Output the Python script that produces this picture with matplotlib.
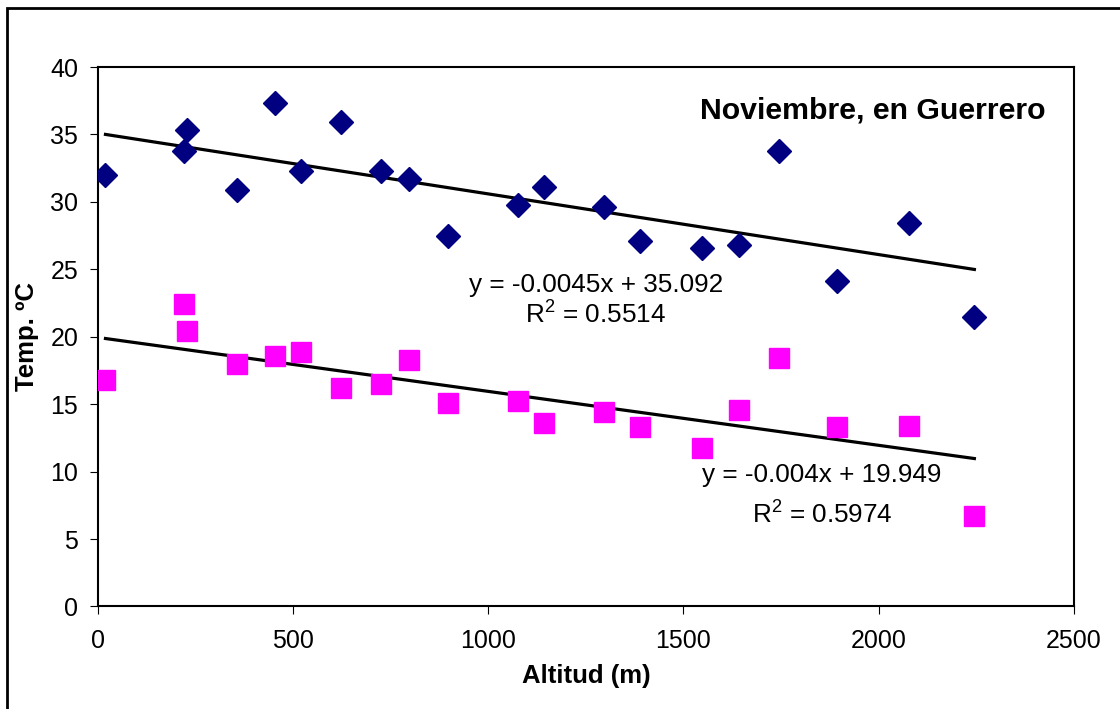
import numpy as np
import matplotlib
matplotlib.use("Agg")
import matplotlib.pyplot as plt
from matplotlib.patches import Rectangle

# data
altitud = [20, 220, 230, 357, 455, 520, 623, 725, 797, 898,
           1076, 1143, 1296, 1388, 1548, 1643, 1745, 1893, 2077, 2245]
temp_max = [32.0, 33.8, 35.3, 30.9, 37.35, 32.3, 35.9, 32.3, 31.7, 27.5,
            29.8, 31.1, 29.6, 27.1, 26.55, 26.8, 33.8, 24.15, 28.45, 21.5]
temp_min = [16.8, 22.4, 20.4, 18.0, 18.6, 18.9, 16.2, 16.5, 18.3, 15.1,
            15.2, 13.6, 14.4, 13.3, 11.75, 14.6, 18.4, 13.3, 13.4, 6.7]

# trend line coefficients as printed on the chart
fit_max = (-0.0045, 35.092, 0.5514)
fit_min = (-0.004, 19.949, 0.5974)

xticks = [0, 500, 1000, 1500, 2000, 2500]
yticks = [0, 5, 10, 15, 20, 25, 30, 35, 40]

plt.rcParams['font.family'] = ['Liberation Sans', 'DejaVu Sans']
plt.rcParams['mathtext.fontset'] = 'custom'
plt.rcParams['mathtext.rm'] = 'Liberation Sans'

fig = plt.figure(figsize=(11.2, 7.09), dpi=100)
ax = fig.add_axes([0.0872, 0.1446, 0.9589 - 0.0872, 0.9055 - 0.1446])

ax.plot(altitud, temp_max, ls='none', marker='D', ms=12.5, color='#000080', zorder=3)
ax.plot(altitud, temp_min, ls='none', marker='s', ms=14.5, color='#FF00FF', zorder=3)

xx = np.array([min(altitud), max(altitud)])
for m, b, r2 in (fit_max, fit_min):
    ax.plot(xx, m * xx + b, color='black', lw=2.3, zorder=2)

ax.set_xlim(0, 2500)
ax.set_ylim(0, 40)
ax.set_xticks(xticks)
ax.set_yticks(yticks)
ax.tick_params(axis='both', labelsize=18, direction='out', length=6, width=0.8)
ax.tick_params(axis='x', pad=10)
ax.tick_params(axis='y', pad=8)
for s in ax.spines.values():
    s.set_linewidth(1.5)

ax.set_xlabel('Altitud (m)', fontsize=18.5, fontweight='bold', labelpad=8)
ax.set_ylabel('Temp. ºC', fontsize=18.5, fontweight='bold', labelpad=8)

ax.text(2426, 36.8, 'Noviembre, en Guerrero', fontsize=21.8, fontweight='bold',
        ha='right', va='center')

ax.text(1276, 23.8, 'y = %.4fx + %.3f' % (fit_max[0], fit_max[1]),
        fontsize=18.8, ha='center', va='center')
ax.text(1276, 21.7, 'R$^2$ = %.4f' % fit_max[2], fontsize=18.8, ha='center', va='center')
ax.text(1855, 9.75, 'y = %.3fx + %.3f' % (fit_min[0], fit_min[1]),
        fontsize=18.8, ha='center', va='center')
ax.text(1855, 6.9, 'R$^2$ = %.4f' % fit_min[2], fontsize=18.8, ha='center', va='center')

# outer chart border (cut off at right and bottom in the reference)
fig.add_artist(Rectangle((7 / 1120, -0.1), 1.0, 0.1 + 701 / 709,
                         transform=fig.transFigure, fill=False,
                         edgecolor='black', lw=2))

fig.savefig('out.png', dpi=100)
